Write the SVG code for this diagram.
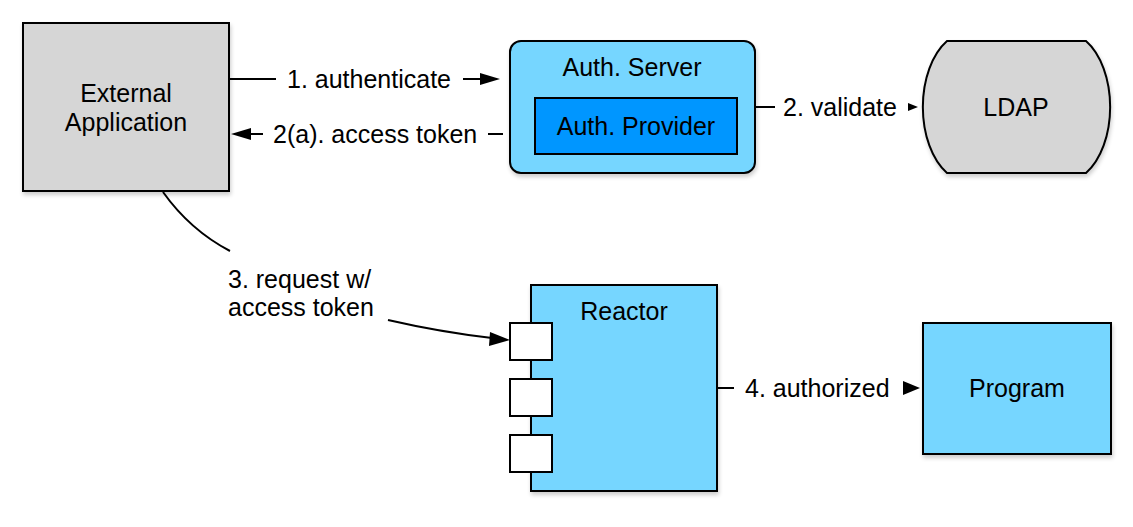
<svg xmlns="http://www.w3.org/2000/svg" width="1133" height="527" viewBox="0 0 1133 527">
<defs>
<style>
text{font-family:"Liberation Sans",Arial,Helvetica,sans-serif;font-size:25px;fill:#000;}
.c{text-anchor:middle;}
.n{stroke:#000;stroke-width:2;}
.ln{fill:none;stroke:#000;stroke-width:2;}
</style>
<filter id="sh" x="-10%" y="-10%" width="130%" height="130%">
<feGaussianBlur in="SourceAlpha" stdDeviation="2"/>
<feOffset dx="1" dy="3" result="b"/>
<feComponentTransfer><feFuncA type="linear" slope="0.2"/></feComponentTransfer>
<feMerge><feMergeNode/><feMergeNode in="SourceGraphic"/></feMerge>
</filter>
</defs>
<rect width="1133" height="527" fill="#fff"/>
<g id="external-application">
<rect class="n" x="23" y="23" width="206" height="168" fill="#D6D6D6" filter="url(#sh)"/>
<text class="c" x="126" y="102">External</text>
<text class="c" x="126" y="131">Application</text>
</g>
<g id="auth-server">
<rect class="n" x="510" y="41" width="245" height="132" rx="11" fill="#76D6FF" filter="url(#sh)"/>
<text class="c" x="632" y="76">Auth. Server</text>
</g>
<g id="auth-provider">
<rect class="n" x="535" y="98" width="202" height="56" fill="#0096FF"/>
<text class="c" x="636" y="135">Auth. Provider</text>
</g>
<g id="ldap">
<path class="n" d="M 947 41 L 1086 41 A 46 75 0 0 1 1086 173 L 947 173 A 46 75 0 0 1 947 41 Z" fill="#D6D6D6" filter="url(#sh)"/>
<text class="c" x="1016" y="116">LDAP</text>
</g>
<g id="reactor">
<rect class="n" x="531" y="285" width="186" height="206" fill="#76D6FF" filter="url(#sh)"/>
<text class="c" x="624" y="320">Reactor</text>
<rect class="n" x="510" y="323" width="42" height="37" fill="#fff"/>
<rect class="n" x="510" y="379" width="42" height="37" fill="#fff"/>
<rect class="n" x="510" y="435" width="42" height="37" fill="#fff"/>
</g>
<g id="program">
<rect class="n" x="923" y="323" width="188" height="131" fill="#76D6FF" filter="url(#sh)"/>
<text class="c" x="1017" y="397">Program</text>
</g>
<g id="connectors">
<line class="ln" x1="229" y1="79" x2="276" y2="79"/>
<text x="287" y="88">1. authenticate</text>
<line class="ln" x1="463" y1="79" x2="482" y2="79"/>
<path d="M 480 73 L 500 79 L 480 85 Z"/>
<path d="M 231 134 L 251 128 L 251 140 Z"/>
<line class="ln" x1="250" y1="134" x2="263" y2="134"/>
<text x="273" y="143">2(a). access token</text>
<line class="ln" x1="488" y1="134" x2="503" y2="134"/>
<line class="ln" x1="755" y1="107" x2="775" y2="107"/>
<text x="783" y="116">2. validate</text>
<path d="M 908 103 L 918 107 L 908 111 Z"/>
<path class="ln" d="M 163 192 Q 190 230 230 251"/>
<text x="228" y="288">3. request w/</text>
<text x="228" y="316">access token</text>
<path class="ln" d="M 388 320 Q 440 332 492 338"/>
<path d="M 490 332 L 510 340 L 489 346 Z"/>
<line class="ln" x1="717" y1="388" x2="734" y2="388"/>
<text x="745" y="397">4. authorized</text>
<path d="M 903 381 L 920 388 L 903 395 Z"/>
</g>
</svg>
